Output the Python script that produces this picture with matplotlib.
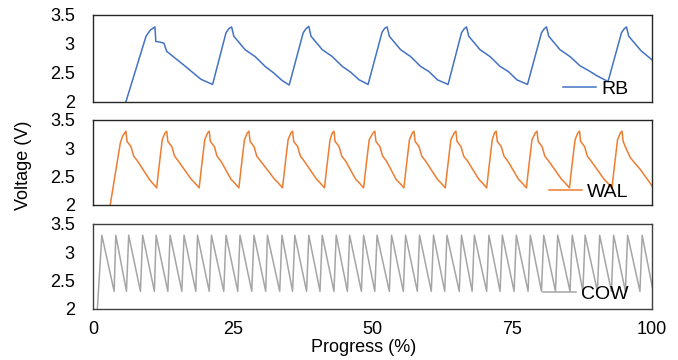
import matplotlib
matplotlib.use('Agg')
import matplotlib.pyplot as plt

plt.rcParams['font.family'] = ['Liberation Sans', 'DejaVu Sans']

# RB trace, vertices (progress %, volts)
rb_x = [5.9, 9.5, 10.3, 11.1, 11.25, 12.0, 12.7, 13.2, 16.3, 19.3, 21.4,
        23.8, 24.3, 24.8, 25.2, 27.2, 29.0, 30.8, 32.3, 33.8, 35.1,
        37.6, 38.1, 38.6, 39.0, 41.0, 42.8, 44.6, 46.1, 47.6, 49.2,
        51.7, 52.2, 52.6, 53.0, 55.0, 56.8, 58.6, 60.1, 61.6, 63.5,
        65.9, 66.4, 66.8, 67.2, 69.2, 71.0, 72.8, 74.3, 75.8, 77.7,
        80.2, 80.7, 81.1, 81.5, 83.5, 85.3, 87.1, 88.6, 90.1, 92.1,
        94.5, 95.0, 95.4, 95.8, 98.0, 100.0]
rb_v = [2.00, 3.13, 3.24, 3.29, 3.04, 3.03, 3.01, 2.87, 2.63, 2.39, 2.30,
        3.19, 3.26, 3.29, 3.13, 2.90, 2.78, 2.61, 2.50, 2.37, 2.29,
        3.19, 3.26, 3.30, 3.13, 2.90, 2.78, 2.61, 2.51, 2.38, 2.30,
        3.20, 3.27, 3.29, 3.13, 2.90, 2.78, 2.61, 2.52, 2.38, 2.30,
        3.19, 3.26, 3.29, 3.13, 2.90, 2.78, 2.61, 2.52, 2.38, 2.30,
        3.19, 3.26, 3.29, 3.13, 2.90, 2.78, 2.62, 2.54, 2.45, 2.35,
        3.19, 3.26, 3.29, 3.13, 2.88, 2.72]

# WAL trace
wal_x = [3.1, 4.9, 5.3, 5.9, 6.1, 6.8, 7.3, 8.0, 10.1, 10.6, 11.4,
         11.8, 12.4, 12.9, 13.2, 13.4, 14.1, 14.6, 15.3, 17.6, 18.2, 19.0,
         19.4, 20.0, 20.5, 20.8, 21.0, 21.7, 22.2, 22.9, 24.7, 25.3, 26.1,
         26.5, 27.1, 27.6, 27.9, 28.1, 28.8, 29.3, 30.0, 32.5, 33.1, 33.9,
         34.3, 34.9, 35.4, 35.7, 35.9, 36.6, 37.1, 37.8, 40.0, 40.6, 41.4,
         41.8, 42.4, 42.8, 43.1, 43.3, 44.0, 44.5, 45.2, 47.0, 47.6, 48.4,
         48.8, 49.4, 50.1, 50.4, 50.6, 51.3, 51.8, 52.5, 54.2, 54.8, 55.6,
         56.0, 56.6, 57.1, 57.4, 57.6, 58.3, 58.8, 59.5, 61.6, 62.2, 63.0,
         63.4, 64.0, 64.6, 64.9, 65.1, 65.8, 66.3, 67.0, 69.0, 69.6, 70.4,
         70.8, 71.4, 71.8, 72.1, 72.3, 73.0, 73.5, 74.2, 76.1, 76.7, 77.5,
         77.9, 78.5, 79.1, 79.4, 79.6, 80.3, 80.8, 81.5, 83.8, 84.4, 85.2,
         85.6, 86.2, 86.7, 87.0, 87.2, 87.9, 88.4, 89.1, 91.4, 92.0, 92.8,
         93.2, 93.8, 94.3, 94.6, 94.8, 95.3, 96.1, 97.9, 100.0]
wal_v = [2.00, 3.09, 3.21, 3.30, 3.12, 3.03, 2.86, 2.77, 2.45, 2.39, 2.30,
         2.65, 3.15, 3.27, 3.30, 3.12, 3.03, 2.86, 2.77, 2.45, 2.39, 2.30,
         2.65, 3.15, 3.27, 3.30, 3.12, 3.03, 2.86, 2.77, 2.45, 2.39, 2.30,
         2.65, 3.15, 3.27, 3.30, 3.12, 3.03, 2.86, 2.77, 2.45, 2.39, 2.30,
         2.65, 3.15, 3.27, 3.30, 3.12, 3.03, 2.86, 2.77, 2.45, 2.39, 2.30,
         2.65, 3.15, 3.27, 3.30, 3.12, 3.03, 2.86, 2.77, 2.45, 2.39, 2.30,
         2.65, 3.15, 3.27, 3.30, 3.12, 3.03, 2.86, 2.77, 2.45, 2.39, 2.30,
         2.65, 3.15, 3.27, 3.30, 3.12, 3.03, 2.86, 2.77, 2.45, 2.39, 2.30,
         2.65, 3.15, 3.27, 3.30, 3.12, 3.03, 2.86, 2.77, 2.45, 2.39, 2.30,
         2.65, 3.15, 3.27, 3.30, 3.12, 3.03, 2.86, 2.77, 2.45, 2.39, 2.30,
         2.65, 3.15, 3.27, 3.30, 3.12, 3.03, 2.86, 2.77, 2.45, 2.39, 2.30,
         2.65, 3.15, 3.27, 3.30, 3.12, 3.03, 2.86, 2.77, 2.45, 2.39, 2.30,
         2.65, 3.15, 3.27, 3.30, 3.12, 3.00, 2.83, 2.62, 2.33]

# COW trace: start point, then alternating peaks and troughs
cow_start = (0.8, 2.0)
cow_peaks = [1.6, 4.1, 6.4, 8.9, 11.3, 13.8, 16.3, 18.7, 21.2, 23.8, 26.3, 28.8, 31.2,
             33.8, 36.1, 38.6, 41.0, 43.5, 45.9, 48.4, 50.8, 53.4, 55.9, 58.4, 60.9,
             63.3, 65.9, 68.2, 70.8, 73.2, 75.7, 78.2, 80.6, 83.1, 85.7, 88.0, 90.6,
             93.1, 95.6, 98.2]
cow_troughs = [3.8, 6.0, 8.5, 11.0, 13.4, 15.9, 18.4, 20.8, 23.4, 25.9, 28.4, 30.9,
               33.4, 35.7, 38.2, 40.6, 43.1, 45.5, 48.0, 50.4, 53.0, 55.5, 58.0, 60.5,
               62.9, 65.5, 67.8, 70.4, 72.8, 75.3, 77.8, 80.2, 82.7, 85.3, 87.6, 90.2,
               92.7, 95.2, 97.8, 100.0]
cow_peak_v = 3.30
cow_trough_v = [2.31] * 39 + [2.39]

cow_x = [cow_start[0]]
cow_v = [cow_start[1]]
for p, t, tv in zip(cow_peaks, cow_troughs, cow_trough_v):
    cow_x += [p, t]
    cow_v += [cow_peak_v, tv]

series = [('RB', rb_x, rb_v, '#4472C4'),
          ('WAL', wal_x, wal_v, '#ED7D31'),
          ('COW', cow_x, cow_v, '#A5A5A5')]

fig = plt.figure(figsize=(6.78, 3.6), dpi=100)
# panel boxes in figure fraction: left, bottom, width, height
boxes = [(0.137, 0.717, 0.825, 0.242),
         (0.137, 0.431, 0.825, 0.236),
         (0.137, 0.142, 0.825, 0.236)]
legend_y = [0.15, 0.15, 0.17]

for i, ((name, x, v, color), box) in enumerate(zip(series, boxes)):
    ax = fig.add_axes(box)
    ax.plot(x, v, color=color, linewidth=1.1, label=name)
    ax.set_xlim(0, 100)
    ax.set_ylim(2, 3.5)
    ax.set_yticks([2, 2.5, 3, 3.5])
    ax.set_yticklabels(['2', '2.5', '3', '3.5'])
    ax.tick_params(axis='both', length=0, labelsize=13)
    ax.tick_params(axis='y', pad=13)
    for sp in ax.spines.values():
        sp.set_color('#262626' if i < 2 else '#404040')
        sp.set_linewidth(1.0)
    if i < 2:
        ax.set_xticks([])
    else:
        ax.set_xticks([0, 25, 50, 75, 100])
        ax.tick_params(axis='x', pad=9)
        ax.set_xlabel('Progress (%)', fontsize=13)
        ax.xaxis.set_label_coords(0.484, -0.355)
    ax.legend(loc='center right', bbox_to_anchor=(0.957, legend_y[i]), frameon=False,
              fontsize=14, handlelength=1.7, handletextpad=0.25, borderpad=0,
              borderaxespad=0)

fig.text(0.034, 0.54, 'Voltage (V)', rotation=90, ha='center', va='center', fontsize=13)

fig.savefig('out.png', dpi=100)
